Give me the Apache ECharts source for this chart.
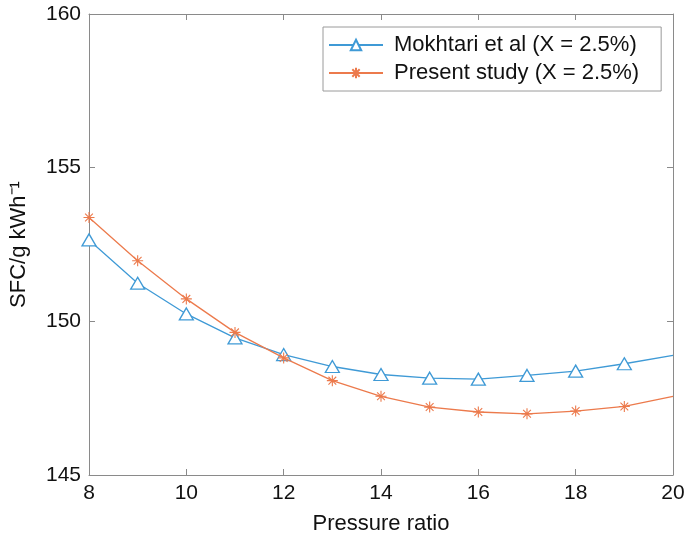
<!DOCTYPE html>
<html>
<head>
<meta charset="utf-8">
<script src="https://cdn.jsdelivr.net/npm/echarts@6/dist/echarts.min.js"></script>
<style>html,body{margin:0;padding:0;background:#fff}#c{width:685px;height:538px}</style>
</head>
<body>
<div id="c"></div>
<script>
const pressureRatio = [8, 9, 10, 11, 12, 13, 14, 15, 16, 17, 18, 19, 20];
const mokhtari = [152.65, 151.24, 150.24, 149.46, 148.92, 148.53, 148.27, 148.15, 148.12, 148.24, 148.38, 148.62, 148.89];
const present = [153.38, 151.97, 150.73, 149.64, 148.81, 148.07, 147.56, 147.21, 147.05, 146.99, 147.08, 147.23, 147.56];
const xTicks = [8, 10, 12, 14, 16, 18, 20];
const yTicks = [145, 150, 155, 160];
const seriesNames = ['Mokhtari et al (X = 2.5%)', 'Present study (X = 2.5%)'];

const blue = '#3f9ad6';
const orange = '#ec7a4c';
const axisGrey = '#8a8a8a';
const font = 'Liberation Sans, Arial, Helvetica, sans-serif';
const starPath = 'path://M0,-10L0,10M-10,0L10,0M-7.07,-7.07L7.07,7.07M-7.07,7.07L7.07,-7.07';

function buildData(ys) {
  return pressureRatio.map((x, i) => {
    const item = { value: [x, ys[i]] };
    if (i === pressureRatio.length - 1) item.symbol = 'none';
    return item;
  });
}

const chart = echarts.init(document.getElementById('c'), null, { renderer: 'canvas' });
const baseAxis = {
  axisLine: { show: true, lineStyle: { color: axisGrey, width: 1 } },
  axisTick: { show: true, inside: true, length: 6, lineStyle: { color: axisGrey } },
  splitLine: { show: false }
};
chart.setOption({
  animation: false,
  backgroundColor: '#fff',
  grid: { left: 89, right: 12, top: 14, bottom: 63, containLabel: false, outerBoundsMode: 'none' },
  legend: {
    orient: 'vertical',
    left: 323, top: 27,
    padding: [7, 22, 7, 5],
    itemGap: 6,
    itemWidth: 54, itemHeight: 13,
    borderColor: '#9a9a9a', borderWidth: 1,
    backgroundColor: '#fff',
    textStyle: { fontFamily: font, fontSize: 22, color: '#111', padding: [0, 0, 0, 6] },
    data: seriesNames
  },
  xAxis: [
    Object.assign({}, baseAxis, {
      type: 'value', min: 8, max: 20, interval: 2,
      name: 'Pressure ratio', nameLocation: 'middle', nameGap: 38,
      nameTextStyle: { fontFamily: font, fontSize: 22, color: '#111' },
      axisLabel: { fontFamily: font, fontSize: 21, color: '#111', margin: 8,
        customValues: xTicks },
    }),
    Object.assign({}, baseAxis, {
      type: 'value', min: 8, max: 20, interval: 2, position: 'top',
      axisLabel: { show: false }
    })
  ],
  yAxis: [
    Object.assign({}, baseAxis, {
      type: 'value', min: 145, max: 160, interval: 5,
      name: 'SFC/g kWh\u207B\u00B9', nameLocation: 'middle', nameGap: 59,
      nameTextStyle: { fontFamily: font, fontSize: 22, color: '#111' },
      axisLabel: { fontFamily: font, fontSize: 21, color: '#111', margin: 8 }
    }),
    Object.assign({}, baseAxis, {
      type: 'value', min: 145, max: 160, interval: 5, position: 'right',
      axisLabel: { show: false }
    })
  ],
  series: [
    {
      name: seriesNames[0], type: 'line', data: buildData(mokhtari),
      symbol: 'triangle', symbolSize: [14, 12], showAllSymbol: true,
      lineStyle: { color: blue, width: 1.3 },
      itemStyle: { color: '#fff', borderColor: blue, borderWidth: 1.3 },
      emphasis: { disabled: true }, z: 2
    },
    {
      name: seriesNames[1], type: 'line', data: buildData(present),
      symbol: starPath, symbolSize: 11, showAllSymbol: true,
      lineStyle: { color: orange, width: 1.3 },
      itemStyle: { color: orange, borderColor: orange, borderWidth: 1.1 },
      emphasis: { disabled: true }, z: 3
    }
  ]
});
</script>
</body>
</html>
